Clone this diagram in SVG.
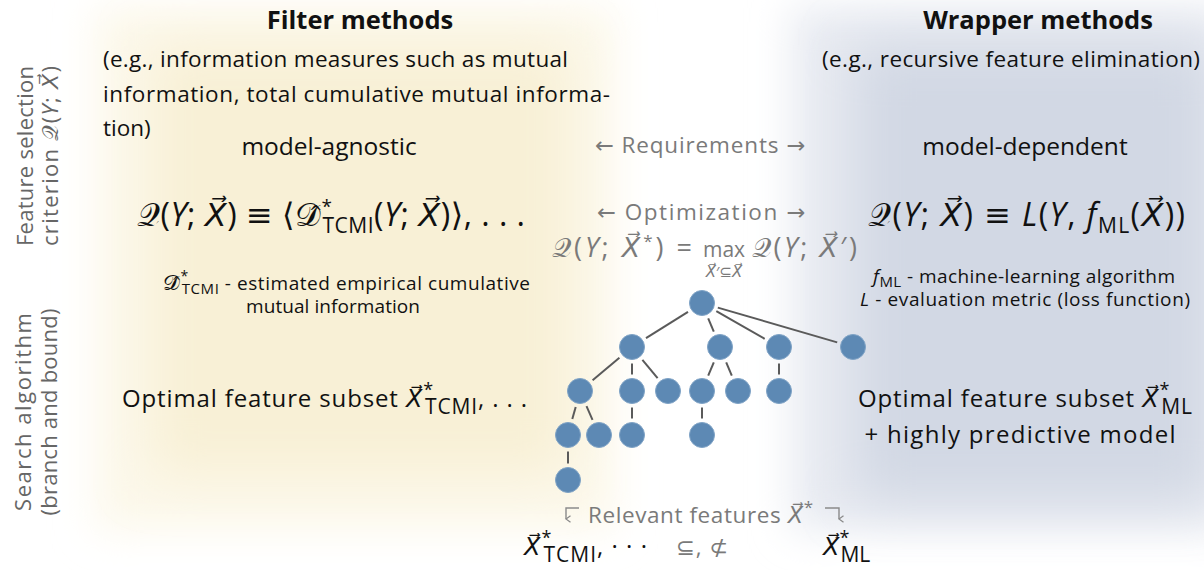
<svg xmlns="http://www.w3.org/2000/svg" width="1204" height="570" viewBox="0 0 1204 570">
  <defs>
    <filter id="soft" x="-30%" y="-30%" width="160%" height="160%">
      <feGaussianBlur stdDeviation="20"/>
    </filter>
    <filter id="softer" x="-30%" y="-30%" width="160%" height="160%">
      <feGaussianBlur stdDeviation="26"/>
    </filter>
    <style>
      text { font-family: "Open Sans", "DejaVu Sans", sans-serif; fill: #111; }
      .title { font-size: 25.5px; font-weight: bold; text-anchor: middle; }
      .para { font-size: 22.5px; }
      .head { font-size: 24.5px; text-anchor: middle; }
      .math { font-size: 32px; }
      .note { font-size: 19px; }
      .big { font-size: 24px; }
      .gray { fill: #7a7a7a; }
      .side { font-size: 22px; fill: #666; text-anchor: middle; }
      .it { font-style: italic; }
      .cal { font-family: "DejaVu Sans", "Noto Sans", sans-serif; font-style: normal; }
      .node circle { fill: #5d89b4; stroke: #7fa3c6; stroke-width: 1; }
      .edge { stroke: #5a5a5a; stroke-width: 2; fill: none; }
      .hook { stroke: #8a8a8a; stroke-width: 1.4; fill: none; }
    </style>
    <marker id="tip" viewBox="0 0 8 8" refX="4" refY="7" markerWidth="8" markerHeight="8" orient="auto-start-reverse" markerUnits="userSpaceOnUse">
      <path d="M0.8,2.5 L4,7 L7.2,2.5" fill="none" stroke="#8a8a8a" stroke-width="1.3"/>
    </marker>
  </defs>

  <!-- shaded panels -->
  <g id="panels">
    <rect x="95" y="8" width="520" height="522" fill="#fcf8ea" filter="url(#soft)"/>
    <rect x="150" y="45" width="420" height="430" fill="#f8f0d6" filter="url(#softer)"/>
    <rect x="792" y="8" width="440" height="522" fill="#e7eaf1" filter="url(#soft)"/>
    <rect x="855" y="45" width="360" height="455" fill="#d2d8e4" filter="url(#softer)"/>
  </g>

  <!-- row labels -->
  <g id="row-labels">
    <text class="side" transform="translate(33,156) rotate(-90)" textLength="180">Feature selection</text>
    <text class="side" transform="translate(58,156) rotate(-90)" textLength="180">criterion <tspan class="cal">𝒬</tspan>(<tspan class="it">Y</tspan>; <tspan class="it">X⃗</tspan>)</text>
    <text class="side" transform="translate(31,412) rotate(-90)" textLength="198">Search algorithm</text>
    <text class="side" transform="translate(57,412) rotate(-90)" textLength="207">(branch and bound)</text>
  </g>

  <!-- filter column -->
  <g id="filter-methods">
    <text class="title" x="360" y="29">Filter methods</text>
    <text class="para" x="103" y="67" textLength="465">(e.g., information measures such as mutual</text>
    <text class="para" x="103" y="102" textLength="507">information, total cumulative mutual informa-</text>
    <text class="para" x="103" y="136">tion)</text>
    <text class="head" x="329" y="155">model-agnostic</text>
    <text class="math" x="137" y="226" textLength="388"><tspan class="cal">𝒬</tspan>(<tspan class="it">Y</tspan>; <tspan class="it">X⃗</tspan>)  ≡  ⟨<tspan class="cal">𝒟̂</tspan><tspan font-size="19" dy="-13">*</tspan><tspan font-size="21" dx="-10" dy="20">TCMI</tspan><tspan dy="-7">(</tspan><tspan class="it">Y</tspan>; <tspan class="it">X⃗</tspan>)⟩, . . .</text>
    <text class="note" x="163" y="290" textLength="367"><tspan class="cal" font-size="21">𝒟̂</tspan><tspan font-size="14" dy="-9">*</tspan><tspan font-size="15" dx="-7" dy="13">TCMI</tspan><tspan dy="-4"> - estimated empirical cumulative</tspan></text>
    <text class="note" x="333" y="313" text-anchor="middle" textLength="174">mutual information</text>
    <text class="big" x="122" y="407" textLength="405">Optimal feature subset <tspan class="it">X⃗</tspan><tspan font-size="18" dy="-11">*</tspan><tspan font-size="21" dx="-9" dy="18">TCMI</tspan><tspan dy="-7">,  .  .  .</tspan></text>
  </g>

  <!-- wrapper column -->
  <g id="wrapper-methods">
    <text class="title" x="1038" y="29">Wrapper methods</text>
    <text class="para" x="1011" y="67" text-anchor="middle" textLength="378">(e.g., recursive feature elimination)</text>
    <text class="head" x="1025" y="155">model-dependent</text>
    <text class="math" x="868" y="226" textLength="317"><tspan class="cal">𝒬</tspan>(<tspan class="it">Y</tspan>; <tspan class="it">X⃗</tspan>)  ≡  <tspan class="it">L</tspan>(<tspan class="it">Y</tspan>, <tspan class="it">f</tspan><tspan font-size="21" dy="7">ML</tspan><tspan dy="-7">(</tspan><tspan class="it">X⃗</tspan>))</text>
    <text class="note" x="1024" y="283" text-anchor="middle" textLength="302"><tspan class="it">f</tspan><tspan font-size="15" dy="4">ML</tspan><tspan dy="-4"> - machine-learning algorithm</tspan></text>
    <text class="note" x="1025" y="306" text-anchor="middle" textLength="330"><tspan class="it">L</tspan> - evaluation metric (loss function)</text>
    <text class="big" x="858" y="407" textLength="334">Optimal feature subset <tspan class="it">X⃗</tspan><tspan font-size="18" dy="-11">*</tspan><tspan font-size="21" dx="-9" dy="18">ML</tspan></text>
    <text class="big" x="1020" y="443" text-anchor="middle" textLength="311">+  highly predictive model</text>
  </g>

  <!-- middle annotations -->
  <g id="middle">
    <text class="para gray" x="700" y="153" text-anchor="middle" textLength="210">← Requirements →</text>
    <text class="para gray" x="701" y="220" text-anchor="middle" textLength="208">← Optimization →</text>
    <text class="gray" font-size="27" x="692" y="257" text-anchor="end" textLength="140"><tspan class="cal">𝒬</tspan>(<tspan class="it">Y</tspan>; <tspan class="it">X⃗</tspan><tspan font-size="17" dy="-10">*</tspan><tspan dy="10">)  =</tspan></text>
    <text class="gray" font-size="21" x="724" y="257" text-anchor="middle">max</text>
    <text class="gray" font-size="15" x="724" y="277" text-anchor="middle"><tspan class="it">X⃗</tspan>′⊆<tspan class="it">X⃗</tspan></text>
    <text class="gray" font-size="27" x="752" y="257" textLength="105"><tspan class="cal">𝒬</tspan>(<tspan class="it">Y</tspan>; <tspan class="it">X⃗</tspan>′)</text>
  </g>

  <!-- search tree edges -->
  <g id="connectors">
    <line class="edge" x1="688.0" y1="311.8" x2="646.0" y2="338.2"/>
    <line class="edge" x1="708.2" y1="318.3" x2="713.8" y2="331.7"/>
    <line class="edge" x1="716.3" y1="311.2" x2="764.7" y2="338.8"/>
    <line class="edge" x1="717.8" y1="307.6" x2="837.2" y2="342.4"/>
    <line class="edge" x1="619.4" y1="357.7" x2="592.6" y2="380.3"/>
    <line class="edge" x1="632" y1="363.5" x2="632" y2="374.5"/>
    <line class="edge" x1="642.4" y1="359.8" x2="657.6" y2="378.2"/>
    <line class="edge" x1="713.8" y1="362.3" x2="708.2" y2="375.7"/>
    <line class="edge" x1="726.2" y1="362.3" x2="731.8" y2="375.7"/>
    <line class="edge" x1="779" y1="363.5" x2="779" y2="374.5"/>
    <line class="edge" x1="575.7" y1="406.9" x2="572.3" y2="419.1"/>
    <line class="edge" x1="586.5" y1="406.1" x2="592.5" y2="419.9"/>
    <line class="edge" x1="632" y1="407.5" x2="632" y2="418.5"/>
    <line class="edge" x1="702" y1="407.5" x2="702" y2="418.5"/>
    <line class="edge" x1="568" y1="451.5" x2="568" y2="463.5"/>
  </g>

  <!-- search tree nodes -->
  <g id="n-root" class="node"><circle cx="702" cy="303" r="12.5"/></g>
  <g id="n-a" class="node"><circle cx="632" cy="347" r="12.5"/></g>
  <g id="n-b" class="node"><circle cx="720" cy="347" r="12.5"/></g>
  <g id="n-c" class="node"><circle cx="779" cy="347" r="12.5"/></g>
  <g id="n-d" class="node"><circle cx="853" cy="347" r="12.5"/></g>
  <g id="n-a1" class="node"><circle cx="580" cy="391" r="12.5"/></g>
  <g id="n-a2" class="node"><circle cx="632" cy="391" r="12.5"/></g>
  <g id="n-a3" class="node"><circle cx="668" cy="391" r="12.5"/></g>
  <g id="n-b1" class="node"><circle cx="702" cy="391" r="12.5"/></g>
  <g id="n-b2" class="node"><circle cx="738" cy="391" r="12.5"/></g>
  <g id="n-c1" class="node"><circle cx="779" cy="391" r="12.5"/></g>
  <g id="n-a1a" class="node"><circle cx="568" cy="435" r="12.5"/></g>
  <g id="n-a1b" class="node"><circle cx="599" cy="435" r="12.5"/></g>
  <g id="n-a2a" class="node"><circle cx="632" cy="435" r="12.5"/></g>
  <g id="n-b1a" class="node"><circle cx="702" cy="435" r="12.5"/></g>
  <g id="n-a1aa" class="node"><circle cx="568" cy="480" r="12.5"/></g>

  <!-- relevant features -->
  <g id="relevant">
    <path class="hook" d="M579,508 H566 V519" marker-end="url(#tip)"/>
    <text class="para gray" x="588" y="523" textLength="225">Relevant features <tspan class="it">X⃗</tspan><tspan font-size="17" dy="-10">*</tspan></text>
    <path class="hook" d="M825,508 H839 V519" marker-end="url(#tip)"/>
    <text class="big" x="524" y="555" textLength="123"><tspan class="it">X⃗</tspan><tspan font-size="18" dy="-11">*</tspan><tspan font-size="21" dx="-9" dy="18">TCMI</tspan><tspan dy="-7">,  ·  ·  ·</tspan></text>
    <text class="para gray" x="676" y="555" textLength="52">⊆, ⊄</text>
    <text class="big" x="823" y="555"><tspan class="it">X⃗</tspan><tspan font-size="18" dy="-11">*</tspan><tspan font-size="21" dx="-9" dy="18">ML</tspan></text>
  </g>
</svg>
